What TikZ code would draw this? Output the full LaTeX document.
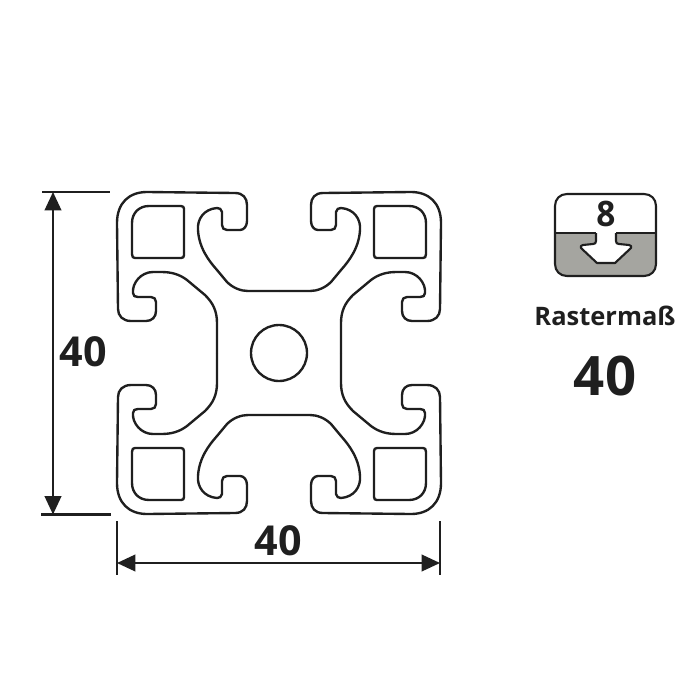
\documentclass[tikz,border=0pt]{standalone}
\usepackage{fontspec}
\setmainfont{Open Sans}
\usetikzlibrary{arrows.meta}

\tikzset{
    profile/.style={line width=1.35pt, line join=round, color=black!88},
    dimline/.style={line width=1.15pt, color=black!88},
    dimarrow/.style={dimline, {Triangle[length=10.5pt,width=9.5pt]}-{Triangle[length=10.5pt,width=9.5pt]}},
    dimlabel/.style={font=\bfseries\fontsize{23.5}{24}\selectfont, color=black!88, inner sep=0pt},
}
\definecolor{slotgray}{RGB}{165,165,160}

\begin{document}
\begin{tikzpicture}[x=0.02cm, y=-0.02cm]

\useasboundingbox (0, 0) rectangle (700, 700);

% One quarter of the outer contour, from left channel wall to top channel wall
\def\quarter{
    (-62, 0) -- (-62, -30) .. controls (-62, -42) and (-66, -50) .. (-74, -58) --
    (-92, -73) .. controls (-100, -79) and (-108, -81) .. (-118, -81) --
    (-126, -81) .. controls (-138, -81) and (-147, -70) .. (-146, -60) ..
    controls (-146, -57) and (-144, -56) .. (-141, -56) --
    (-128, -56) .. controls (-125, -56) and (-123, -54) .. (-123, -51) --
    (-123, -42) .. controls (-123, -36) and (-127, -32) .. (-133, -32) --
    (-148, -32) .. controls (-156, -32) and (-161, -37) .. (-161, -44) --
    (-162, -130) .. controls (-162, -150) and (-150, -161) .. (-132, -161) --
    (-44, -160) .. controls (-36, -160) and (-32, -155) .. (-32, -148) --
    (-32, -132) .. controls (-32, -127) and (-35, -123) .. (-39, -123) --
    (-52, -123) .. controls (-55, -123) and (-57, -125) .. (-57, -128) --
    (-57, -141) .. controls (-57, -144) and (-60, -145) .. (-62, -145) ..
    controls (-75, -144) and (-82, -134) .. (-81, -123) ..
    controls (-80, -105) and (-70, -92) .. (-62, -83) --
    (-52, -71) .. controls (-46, -65) and (-38, -62) .. (-31, -62) -- (0, -62)
}

% Hollow chamber in the corner
\def\chamber{
    (-147, -99) -- (-147, -130) .. controls (-147, -140) and (-140, -147) .. (-130, -147) --
    (-98, -147) .. controls (-96, -147) and (-95, -146) .. (-95, -144) --
    (-95, -98) .. controls (-95, -96) and (-96, -95) .. (-98, -95) --
    (-144, -95) .. controls (-146, -95) and (-147, -96) .. (-147, -99) -- cycle
}

% Profile section
\foreach \sx/\sy in {1/1,-1/1,1/-1,-1/-1}
{
    \begin{scope}[shift={(279, 353)}, xscale=\sx, yscale=\sy]
        \draw[profile] \quarter;
        \draw[profile] \chamber;
    \end{scope}
}
\draw[profile] (279, 353) circle (28);

% Dimension lines
\coordinate (leftTopA) at (42, 192);
\coordinate (leftTopB) at (110, 192);
\coordinate (leftBotA) at (41, 514.5);
\coordinate (leftBotB) at (111, 514.5);
\coordinate (leftArrowA) at (53, 192);
\coordinate (leftArrowB) at (53, 514.5);
\coordinate (botLeftA) at (117, 521);
\coordinate (botLeftB) at (117, 575);
\coordinate (botRightA) at (440, 521);
\coordinate (botRightB) at (440, 575);
\coordinate (botArrowA) at (117, 563);
\coordinate (botArrowB) at (440, 563);

\draw[dimline] (leftTopA) -- (leftTopB);
\draw[dimline] (leftBotA) -- (leftBotB);
\draw[dimline] (botLeftA) -- (botLeftB);
\draw[dimline] (botRightA) -- (botRightB);
\draw[dimarrow] (leftArrowA) -- (leftArrowB);
\draw[dimarrow] (botArrowA) -- (botArrowB);

\node[dimlabel] (heightLabel) at (83, 352) {40};
\node[dimlabel] (widthLabel) at (278, 541) {40};

% Small slot icon
\fill[slotgray] (555, 233) -- (596, 233) -- (596, 241) .. controls (596, 243) and (595, 244) .. (593, 244) --
    (583, 245) .. controls (581, 245) and (580, 247) .. (581, 248) --
    (597, 263) -- (615, 263) -- (631, 248) .. controls (632, 247) and (631, 245) .. (629, 245) --
    (619, 244) .. controls (617, 244) and (616, 243) .. (616, 241) -- (616, 233) -- (656, 233) --
    (656, 264) .. controls (656, 271) and (651, 276) .. (644, 276) -- (567, 276) ..
    controls (560, 276) and (555, 271) .. (555, 264) -- cycle;
\draw[profile, line width=1.2pt] (596, 233) -- (596, 241) .. controls (596, 243) and (595, 244) .. (593, 244) --
    (583, 245) .. controls (581, 245) and (580, 247) .. (581, 248) --
    (597, 263) -- (615, 263) -- (631, 248) .. controls (632, 247) and (631, 245) .. (629, 245) --
    (619, 244) .. controls (617, 244) and (616, 243) .. (616, 241) -- (616, 233);
\draw[profile, line width=1.2pt] (555, 233) -- (596, 233);
\draw[profile, line width=1.2pt] (616, 233) -- (656, 233);
\draw[profile, line width=1.2pt] (555, 206) .. controls (555, 199) and (560, 194) .. (567, 194) --
    (644, 194) .. controls (651, 194) and (656, 199) .. (656, 206) --
    (656, 264) .. controls (656, 271) and (651, 276) .. (644, 276) --
    (567, 276) .. controls (560, 276) and (555, 271) .. (555, 264) -- cycle;

\node[dimlabel, font=\bfseries\fontsize{20}{20}\selectfont] (slotLabel) at (606, 214) {\scalebox{0.95}[1]{8}};
\node[dimlabel, font=\bfseries\fontsize{14.5}{15}\selectfont] (gridLabel) at (605, 316) {Rastermaß};
\node[dimlabel, font=\bfseries\fontsize{31}{31}\selectfont] (gridValue) at (605, 376) {40};

\end{tikzpicture}
\end{document}
